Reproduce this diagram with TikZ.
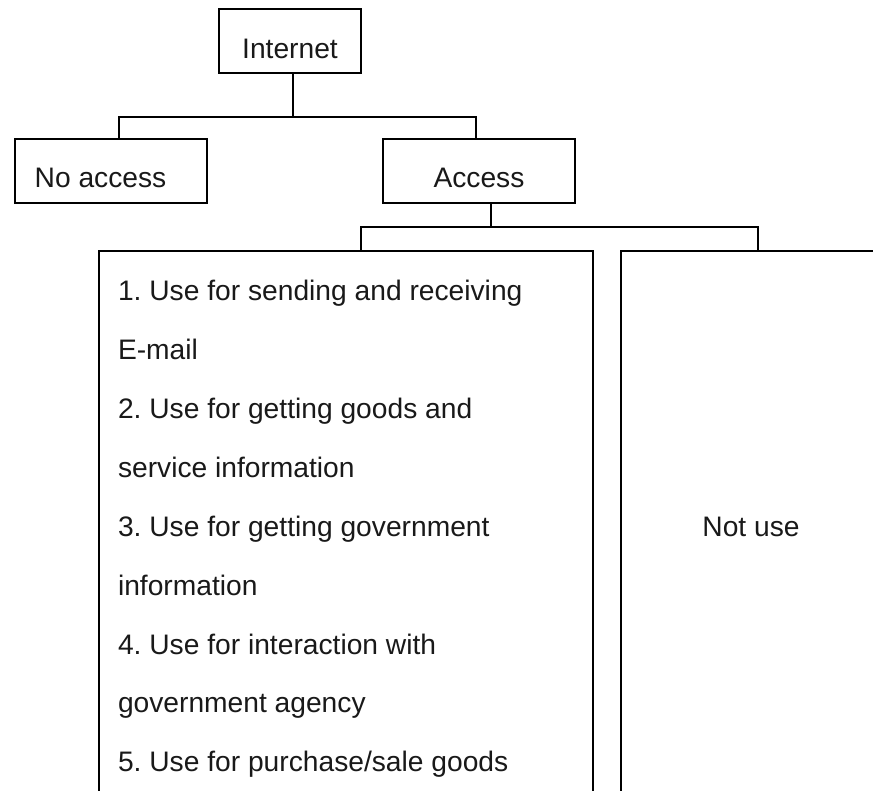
\documentclass[tikz,border=0pt]{standalone}
\usepackage{fontspec}
\setmainfont{Liberation Sans}
\frenchspacing
\begin{document}
\begin{tikzpicture}[x=1pt,y=-1pt,
  box/.style={draw=black,line width=1.6pt,rectangle,inner sep=0pt,outer sep=0pt},
  lbl/.style={inner sep=0pt,outer sep=0pt,font=\fontsize{28.2pt}{34pt}\selectfont\frenchspacing,text=black!90},
  link/.style={draw=black,line width=1.6pt}]
\useasboundingbox (0,0) rectangle (873,791);
\clip (0,0) rectangle (873,791);
% boxes
\node[box,minimum width=142pt,minimum height=64pt] (internet) at (290,41) {};
\node[box,minimum width=192.3pt,minimum height=64pt] (noacc) at (110.85,171) {};
\node[box,minimum width=192pt,minimum height=64pt] (access) at (479,171) {};
\node[box,minimum width=494pt,minimum height=640pt] (uses) at (346,571) {};
\node[box,minimum width=260pt,minimum height=640pt] (notuse) at (751,571) {};
% labels
\node[lbl,anchor=base] (tinternet) at (290,58.3) {Internet};
\node[lbl,anchor=base west] (tnoacc) at (34.7,188) {No access};
\node[lbl,anchor=base] (taccess) at (479,188) {Access};
\node[lbl,anchor=base] (tnotuse) at (751,536) {Not use};
\foreach \i/\t in {0/{1. Use for sending and receiving},1/{E-mail},2/{2. Use for getting goods and},3/{service information},4/{3. Use for getting government},5/{information},6/{4. Use for interaction with},7/{government agency},8/{5. Use for purchase/sale goods}}{
  \node[lbl,anchor=base west] (u\i) at (118,301+58.85*\i) {\t};
}
% connectors
\coordinate (j1) at (293,117);
\coordinate (nl) at (119,117);
\coordinate (nr) at (476,117);
\draw[link] (j1 |- internet.south) -- (j1);
\draw[link] (nl |- noacc.north) -- (nl) -- (nr) -- (nr |- access.north);
\coordinate (j2) at (491,227);
\coordinate (ul) at (361,227);
\coordinate (ur) at (758,227);
\draw[link] (j2 |- access.south) -- (j2);
\draw[link] (ul |- uses.north) -- (ul) -- (ur) -- (ur |- notuse.north);
\end{tikzpicture}
\end{document}
